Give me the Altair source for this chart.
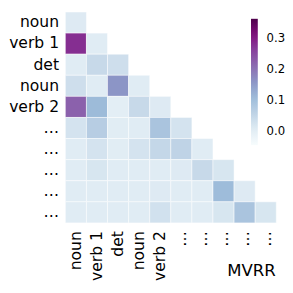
import json
import altair as alt
import pandas as pd

labels = ["noun", "verb 1", "det", "noun", "verb 2", "…", "…", "…", "…", "…"]

# lower-triangular rows (row i has i+1 values)
row0 = [0.010]
row1 = [0.280, 0.007]
row2 = [0.007, 0.045, 0.035]
row3 = [0.035, 0.007, 0.160, 0.007]
row4 = [0.222, 0.110, 0.000, 0.045, 0.010]
row5 = [0.025, 0.070, 0.005, 0.007, 0.090, 0.025]
row6 = [0.007, 0.025, 0.005, 0.025, 0.050, 0.058, 0.007]
row7 = [0.007, 0.020, 0.007, 0.007, 0.007, 0.010, 0.045, 0.020]
row8 = [0.007, 0.007, 0.007, 0.007, 0.010, 0.007, 0.007, 0.108, 0.010]
row9 = [0.007, 0.007, 0.007, 0.007, 0.030, 0.007, 0.007, 0.020, 0.090, 0.020]
rows = [row0, row1, row2, row3, row4, row5, row6, row7, row8, row9]

vmin, vmax = -0.044, 0.3625
bupu = ["#f7fcfd", "#e0ecf4", "#bfd3e6", "#9ebcda", "#8c96c6",
        "#8c6bb1", "#88419d", "#810f7c", "#4d004b"]
legend_ticks = [0.0, 0.1, 0.2, 0.3]

n = len(bupu)
color_domain = [vmin + (vmax - vmin) * k / (n - 1) for k in range(n)]

records = []
for i, r in enumerate(rows):
    for j, v in enumerate(r):
        records.append({"row": i, "col": j, "value": v})
df = pd.DataFrame(records)

lab_expr = json.dumps(labels) + "[datum.value]"
idx = list(range(len(labels)))

chart = alt.Chart(df).mark_rect(stroke="white", strokeWidth=0.5).encode(
    x=alt.X("col:O", scale=alt.Scale(domain=idx, paddingInner=0, paddingOuter=0),
            axis=alt.Axis(labelExpr=lab_expr, labelAngle=270, labelAlign="right",
                          labelBaseline="middle", labelPadding=8, ticks=False, domain=False,
                          labelFontSize=16, labelFont="DejaVu Sans", labelColor="black",
                          title="MVRR", titleFontSize=17, titleFont="DejaVu Sans",
                          titleFontWeight="normal", titleColor="black",
                          titleAnchor="end", titleAlign="right", titleBaseline="alphabetic",
                          titleX=216, titleY=54)),
    y=alt.Y("row:O", scale=alt.Scale(domain=idx, paddingInner=0, paddingOuter=0),
            axis=alt.Axis(labelExpr=lab_expr, labelPadding=7, ticks=False, domain=False,
                          labelFontSize=16, labelFont="DejaVu Sans", labelColor="black",
                          title=None)),
    color=alt.Color("value:Q",
                    scale=alt.Scale(domain=color_domain, range=bupu, interpolate="rgb"),
                    legend=alt.Legend(orient="none", legendX=191, legendY=7, title=None,
                                      direction="vertical", gradientLength=130,
                                      gradientThickness=7, values=legend_ticks,
                                      format=".1f", labelFontSize=12,
                                      labelFont="DejaVu Sans", labelColor="black",
                                      labelOffset=9, padding=0,
                                      gradientStrokeWidth=0)),
).properties(
    width=217, height=217,
    autosize=alt.AutoSizeParams(type="none"),
    padding={"left": 59, "top": 0, "right": 9, "bottom": 68},
).configure_view(stroke=None)

chart.save("out.html", embed_options={"renderer": "svg", "actions": False})
